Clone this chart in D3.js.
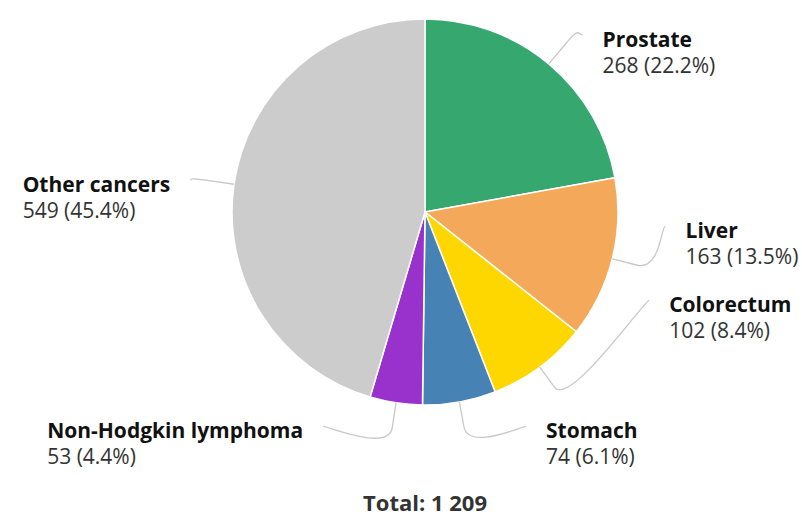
<!DOCTYPE html>
<html>
<head>
<meta charset="utf-8">
<script src="https://cdn.jsdelivr.net/npm/d3@7"></script>
<style>
  body { margin: 0; background: #fff; }
  text { font-family: "Open Sans", "Noto Sans", sans-serif; }
</style>
</head>
<body>
<script>
let width = 802
let height = 517

// data
const categories = ['Prostate', 'Liver', 'Colorectum', 'Stomach', 'Non-Hodgkin lymphoma', 'Other cancers']
const counts = [268, 163, 102, 74, 53, 549]
const colors = ['#36a86f', '#f4a95a', '#ffd700', '#4682b4', '#9932cc', '#cccccc']

// label layout tweaks (nudge of each label from its ideal spot)
const labelNudgeY = [-6, -40, -91, -5, -6, 0]
const labelNudgeX = [-6, 0, 0, -9, 8, 4]

const total = d3.sum(counts)
const cx = 425, cy = 212, radius = 193
const labelRadiusY = radius + 30
const labelRadiusX = radius + 48
const breakOffset = 25

var svg = d3.select('body')
    .append('svg')
    .attr('width', width)
    .attr('height', height)

var rows = categories.map((c, i) => ({name: c, value: counts[i], color: colors[i], i: i}))

var pie = d3.pie()
    .sort(null)
    .value(d => d.value)

var arc = d3.arc()
    .innerRadius(0)
    .outerRadius(radius)

var arcs = pie(rows)

var g = svg.append('g')
    .attr('transform', `translate(${cx},${cy})`)

g.selectAll('path.slice')
    .data(arcs)
    .enter()
    .append('path')
    .attr('class', 'slice')
    .attr('d', arc)
    .attr('fill', d => d.data.color)
    .attr('stroke', '#fff')
    .attr('stroke-width', 1.5)
    .attr('stroke-linejoin', 'round')

// labels + connectors
arcs.forEach(a => {
    let mid = (a.startAngle + a.endAngle) / 2
    let sx = Math.sin(mid), sy = -Math.cos(mid)
    let right = sx >= 0
    let touch = [radius * sx, radius * sy]
    let brk = [(radius + breakOffset) * sx, (radius + breakOffset) * sy]
    let ly = labelRadiusY * sy + labelNudgeY[a.data.i]
    let lx = (right ? 1 : -1) * Math.sqrt(Math.max(0, labelRadiusX ** 2 - ly ** 2)) + labelNudgeX[a.data.i]

    let p = d3.path()
    p.moveTo(lx, ly)
    p.bezierCurveTo(lx + (right ? -5 : 5), ly, 2 * brk[0] - touch[0], 2 * brk[1] - touch[1], brk[0], brk[1])
    p.lineTo(touch[0], touch[1])

    g.append('path')
        .attr('d', p.toString())
        .attr('fill', 'none')
        .attr('stroke', '#c8c8c8')
        .attr('stroke-width', 1.3)

    let lab = g.append('g')
    let t1 = lab.append('text')
        .text(a.data.name)
        .attr('y', ly + 12)
        .attr('font-size', 21)
        .attr('font-weight', 'bold')
        .attr('fill', '#111')
    let pct = (a.data.value / total * 100).toFixed(1)
    let t2 = lab.append('text')
        .text(`${a.data.value} (${pct}%)`)
        .attr('y', ly + 38)
        .attr('font-size', 21)
        .attr('fill', '#333')

    let w = Math.max(t1.node().getComputedTextLength(), t2.node().getComputedTextLength())
    let tx = right ? lx + 20 : lx - 20 - w
    t1.attr('x', tx)
    t2.attr('x', tx)
})

svg.append('text')
    .attr('x', cx)
    .attr('y', 511)
    .attr('text-anchor', 'middle')
    .attr('font-size', 22)
    .attr('font-weight', 'bold')
    .attr('fill', '#333')
    .text('Total: ' + d3.format(',')(total).replace(',', ' '))
</script>
</body>
</html>
